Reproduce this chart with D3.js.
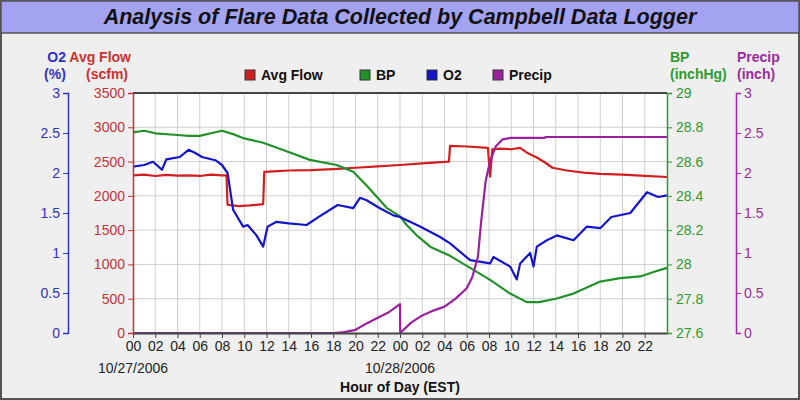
<!DOCTYPE html>
<html>
<head>
<meta charset="utf-8">
<script src="https://cdn.jsdelivr.net/npm/d3@7"></script>
<style>
body { margin: 0; background: #fff; }
svg { display: block; font-family: Arial, "Liberation Sans", sans-serif; }
</style>
</head>
<body>
<script>
// Series: [hours since 10/27/2006 00:00, value]
const avgFlow = [[0,2300],[1,2310],[2,2290],[3,2305],[4,2295],[5,2300],[6,2290],[7,2310],[8,2300],[8.4,2300],
    [8.5,1870],[9.5,1850],[10.5,1860],[11.7,1880],[11.8,2350],[13,2360],[14,2370],[16,2375],[18,2390],[20,2410],
    [22,2430],[24,2450],[26,2475],[28.4,2500],[28.5,2730],[30,2720],[31.9,2700],[32.1,2280],[32.3,2680],[33,2690],
    [34,2680],[34.8,2700],[35.5,2620],[36.3,2560],[37,2490],[37.7,2410],[39,2370],[40.5,2340],[42,2320],[44,2310],
    [46,2290],[48,2275]];

const bp = [[0,28.77],[1,28.78],[2,28.765],[4,28.755],[5,28.75],[6,28.75],[7,28.765],[8,28.78],[9,28.76],[10,28.735],
    [11.7,28.71],[13.8,28.66],[15.9,28.61],[18.3,28.58],[19.8,28.54],[21,28.46],[22.8,28.33],[24,28.28],[24.6,28.23],
    [25.5,28.17],[26.8,28.1],[28.5,28.05],[30.3,27.98],[32.1,27.91],[33.9,27.83],[35.4,27.78],[36.5,27.78],[38,27.8],
    [39.6,27.83],[42,27.9],[43.8,27.92],[45.6,27.93],[47,27.96],[48,27.98]];

const o2 = [[0,2.08],[1,2.1],[1.8,2.14],[2.6,2.04],[3,2.17],[4.2,2.2],[5,2.29],[5.6,2.25],[6.2,2.2],[7.4,2.16],
    [8,2.1],[8.5,2.0],[9,1.54],[9.9,1.33],[10.3,1.35],[11.1,1.22],[11.7,1.08],[12.1,1.33],[12.9,1.39],[14,1.37],
    [15.6,1.35],[16.8,1.46],[18.4,1.6],[19.8,1.56],[20.4,1.69],[21,1.66],[22.2,1.56],[23.4,1.47],[24,1.45],
    [25.8,1.33],[27.6,1.2],[28.5,1.12],[30.3,0.91],[32.1,0.87],[32.4,0.95],[33.9,0.83],[34.5,0.67],[34.8,0.87],
    [35.7,1.0],[36,0.83],[36.3,1.08],[37.2,1.16],[38.1,1.22],[39.6,1.16],[40.8,1.33],[42,1.31],[43,1.45],
    [44.7,1.5],[46.2,1.76],[47.2,1.7],[48,1.72]];

const precip = [[0,0],[18,0],[19,0.01],[20,0.04],[21,0.12],[22,0.19],[23,0.26],[24,0.36],[24.02,0],[25,0.13],
    [26,0.22],[27,0.28],[28,0.33],[29,0.43],[30,0.56],[30.5,0.7],[31,0.95],[31.3,1.4],[31.7,1.9],[32.1,2.15],
    [32.6,2.33],[33.2,2.42],[34,2.44],[37,2.44],[37.1,2.45],[48,2.45]];

const hourTicks = d3.range(0, 48, 2);
const dayHours = [0, 24];
const dayNames = ['10/27/2006', '10/28/2006'];
const seriesNames = ['Avg Flow', 'BP', 'O2', 'Precip'];

const lineColor = {'Avg Flow': '#d21e1e', 'BP': '#23902a', 'O2': '#1414c8', 'Precip': '#9a209e'};
const axisColor = {'Avg Flow': '#c83232', 'BP': '#2e9a2e', 'O2': '#3232c0', 'Precip': '#9a2a9e'};

let width = 800, height = 400;
let plot = {left: 133, right: 667, top: 93, bottom: 333};

let svg = d3.select('body').append('svg')
    .attr('width', width)
    .attr('height', height);

// background + title band
svg.append('rect').attr('x', 1).attr('y', 1).attr('width', width - 2).attr('height', height - 2)
    .style('fill', '#efefef').style('stroke', '#555').style('stroke-width', 2);
svg.append('rect').attr('x', 1).attr('y', 1).attr('width', width - 2).attr('height', 32)
    .style('fill', '#a3a3f2').style('stroke', '#555').style('stroke-width', 1.5);
svg.append('text')
    .attr('x', width / 2).attr('y', 24)
    .attr('text-anchor', 'middle')
    .style('font-size', '21.5px').style('font-weight', 'bold').style('font-style', 'italic')
    .style('fill', '#111')
    .text('Analysis of Flare Data Collected by Campbell Data Logger');

let x = d3.scaleLinear().domain([0, 48]).range([plot.left, plot.right]);
let yFlow = d3.scaleLinear().domain([0, 3500]).range([plot.bottom, plot.top]);
let yBP = d3.scaleLinear().domain([27.6, 29]).range([plot.bottom, plot.top]);
let yO2 = d3.scaleLinear().domain([0, 3]).range([plot.bottom, plot.top]);
let yPrecip = d3.scaleLinear().domain([0, 3]).range([plot.bottom, plot.top]);

// plot area
svg.append('rect')
    .attr('x', plot.left).attr('y', plot.top)
    .attr('width', plot.right - plot.left).attr('height', plot.bottom - plot.top)
    .style('fill', '#fff');

// grid
let grid = svg.append('g');
grid.selectAll('.vgrid')
    .data(hourTicks.filter(d => d > 0))
    .enter().append('line')
    .attr('x1', d => x(d)).attr('x2', d => x(d))
    .attr('y1', plot.top).attr('y2', plot.bottom)
    .style('stroke', '#cfcfcf');
grid.selectAll('.hgrid')
    .data(yFlow.ticks(7).filter(d => d > 0 && d < 3500))
    .enter().append('line')
    .attr('x1', plot.left).attr('x2', plot.right)
    .attr('y1', d => yFlow(d)).attr('y2', d => yFlow(d))
    .style('stroke', '#cfcfcf');

// top border of the plot
svg.append('line')
    .attr('x1', plot.left).attr('x2', plot.right)
    .attr('y1', plot.top).attr('y2', plot.top)
    .style('stroke', '#444').style('stroke-width', 2);

// series
let series = [
    {name: 'Avg Flow', data: avgFlow, y: yFlow},
    {name: 'BP', data: bp, y: yBP},
    {name: 'O2', data: o2, y: yO2},
    {name: 'Precip', data: precip, y: yPrecip}
];
series.forEach(s => {
    let line = d3.line().x(d => x(d[0])).y(d => s.y(d[1]));
    svg.append('path')
        .datum(s.data)
        .attr('d', line)
        .style('fill', 'none')
        .style('stroke', lineColor[s.name])
        .style('stroke-width', 2.2)
        .style('stroke-linejoin', 'round');
});

// x axis
let xAxis = svg.append('g')
    .attr('transform', 'translate(0,' + plot.bottom + ')')
    .call(d3.axisBottom(x).tickValues(hourTicks).tickSize(5).tickSizeOuter(0)
        .tickFormat(h => d3.format('02')(h % 24)));
xAxis.attr('font-family', null);
xAxis.select('.domain').style('stroke', '#444').style('stroke-width', 2);
xAxis.selectAll('.tick line').style('stroke', '#444');
xAxis.selectAll('.tick text').attr('y', 8).style('font-size', '14px').style('fill', '#222');

svg.selectAll('.day')
    .data(dayHours)
    .enter().append('text')
    .attr('x', d => x(d)).attr('y', 373)
    .attr('text-anchor', 'middle')
    .style('font-size', '14px').style('fill', '#222')
    .text((d, i) => dayNames[i]);

svg.append('text')
    .attr('x', 400).attr('y', 392)
    .attr('text-anchor', 'middle')
    .style('font-size', '14px').style('font-weight', 'bold').style('fill', '#111')
    .text('Hour of Day (EST)');

// y axes
function styleAxis(g, color) {
    g.attr('font-family', null);
    g.select('.domain').style('stroke', color).style('stroke-width', 1.5);
    g.selectAll('.tick line').style('stroke', color);
    g.selectAll('.tick text').style('fill', color).style('font-size', '14px');
}

svg.append('g')
    .attr('transform', 'translate(' + plot.left + ',0)')
    .call(d3.axisLeft(yFlow).tickValues(d3.range(0, 3501, 500)).tickSize(5).tickPadding(3).tickFormat(d3.format('d')))
    .call(g => styleAxis(g, axisColor['Avg Flow']));

svg.append('g')
    .attr('transform', 'translate(68,0)')
    .call(d3.axisLeft(yO2).tickValues(d3.range(0, 3.01, 0.5)).tickSize(5).tickPadding(3).tickFormat(d3.format('')))
    .call(g => styleAxis(g, axisColor['O2']));

svg.append('g')
    .attr('transform', 'translate(' + plot.right + ',0)')
    .call(d3.axisRight(yBP).tickValues(d3.range(27.6, 29.01, 0.2)).tickSize(5).tickPadding(4)
        .tickFormat(d => +d.toFixed(1)))
    .call(g => styleAxis(g, axisColor['BP']));

svg.append('g')
    .attr('transform', 'translate(736,0)')
    .call(d3.axisRight(yPrecip).tickValues(d3.range(0, 3.01, 0.5)).tickSize(5).tickPadding(3).tickFormat(d3.format('')))
    .call(g => styleAxis(g, axisColor['Precip']));

// axis titles
let titles = [
    {name: 'O2', lines: ['O2', '(%)'], xs: [66, 55], anchor: ['end', 'middle']},
    {name: 'Avg Flow', lines: ['Avg Flow', '(scfm)'], xs: [131, 107], anchor: ['end', 'middle']},
    {name: 'BP', lines: ['BP', '(inchHg)'], xs: [670, 670], anchor: ['start', 'start']},
    {name: 'Precip', lines: ['Precip', '(inch)'], xs: [737, 737], anchor: ['start', 'start']}
];
titles.forEach(t => {
    t.lines.forEach((txt, i) => {
        svg.append('text')
            .attr('x', t.xs[i]).attr('y', 62 + i * 17)
            .attr('text-anchor', t.anchor[i])
            .style('font-size', '14px').style('font-weight', 'bold')
            .style('fill', axisColor[t.name])
            .text(txt);
    });
});

// legend
let legendX = [245, 360, 427, 493];
let legend = svg.selectAll('.legend')
    .data(seriesNames)
    .enter().append('g')
    .attr('transform', (d, i) => 'translate(' + legendX[i] + ',70)');
legend.append('rect')
    .attr('width', 10).attr('height', 10)
    .style('fill', d => lineColor[d])
    .style('stroke', '#333');
legend.append('text')
    .attr('x', 16).attr('y', 10)
    .style('font-size', '14px').style('font-weight', 'bold').style('fill', '#111')
    .text(d => d);
</script>
</body>
</html>
